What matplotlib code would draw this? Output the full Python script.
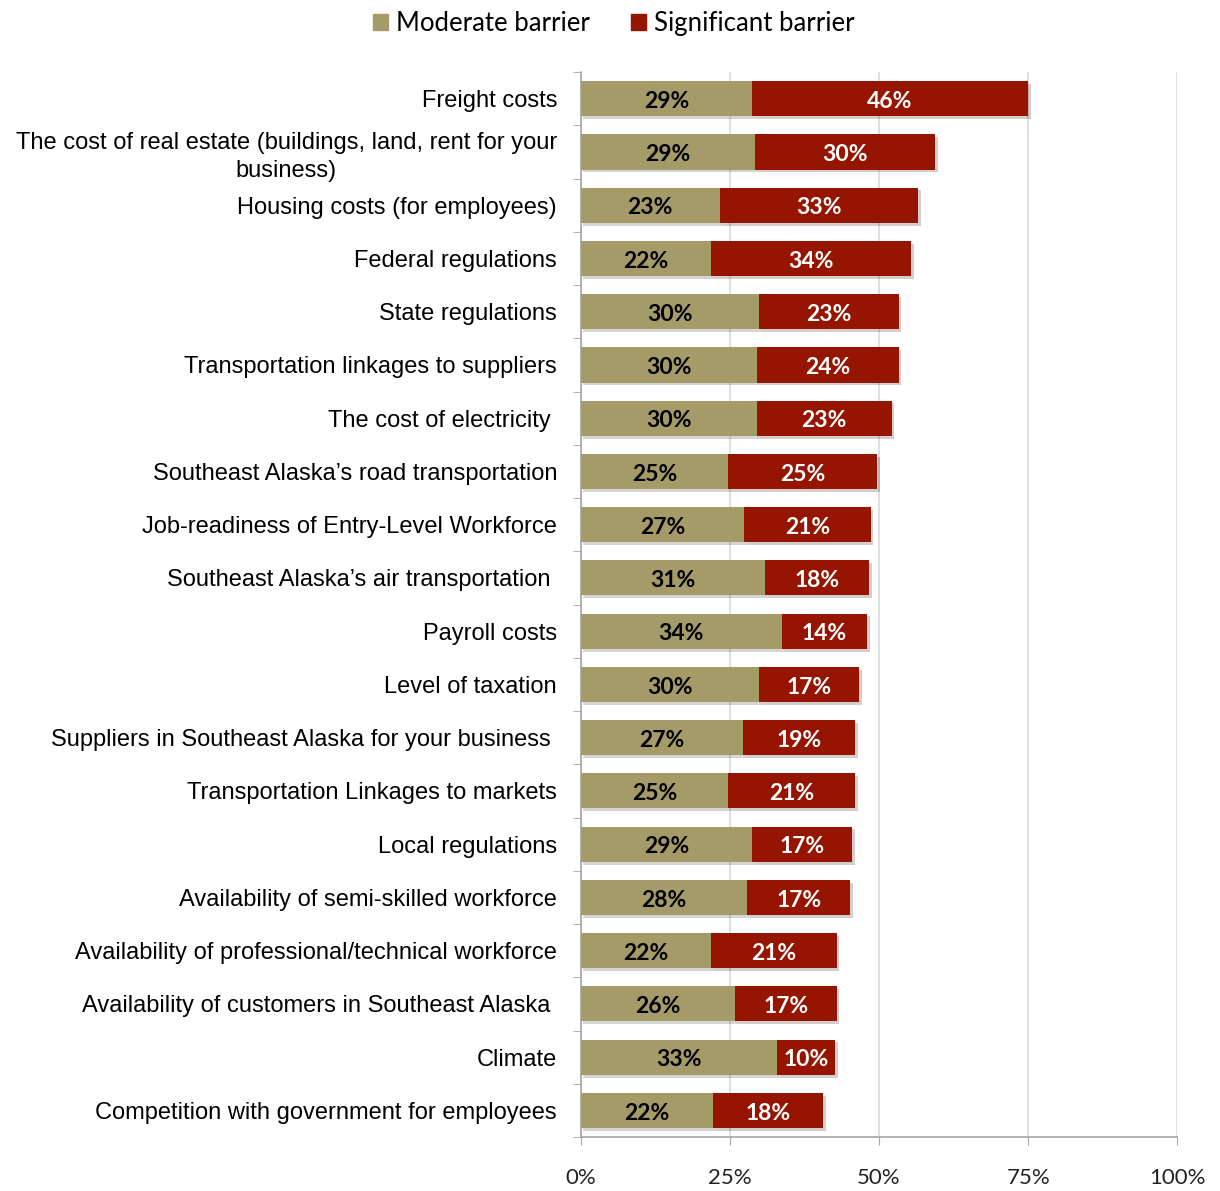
import matplotlib
matplotlib.use('Agg')
import matplotlib.pyplot as plt
import matplotlib.patheffects as pe
from matplotlib.patches import Patch
import numpy as np

# categories, top to bottom
categories = [
    "Freight costs",
    "The cost of real estate (buildings, land, rent for your\nbusiness)",
    "Housing costs (for employees)",
    "Federal regulations",
    "State regulations",
    "Transportation linkages to suppliers",
    "The cost of electricity ",
    "Southeast Alaska\u2019s road transportation",
    "Job-readiness of Entry-Level Workforce",
    "Southeast Alaska\u2019s air transportation ",
    "Payroll costs",
    "Level of taxation",
    "Suppliers in Southeast Alaska for your business ",
    "Transportation Linkages to markets",
    "Local regulations",
    "Availability of semi-skilled workforce",
    "Availability of professional/technical workforce",
    "Availability of customers in Southeast Alaska ",
    "Climate",
    "Competition with government for employees",
]
moderate = [28.7, 29.2, 23.3, 21.8, 29.9, 29.5, 29.5, 24.7, 27.4, 30.9,
            33.7, 29.9, 27.2, 24.7, 28.7, 27.9, 21.8, 25.8, 32.9, 22.1]
significant = [46.3, 30.2, 33.2, 33.6, 23.4, 23.8, 22.6, 25.0, 21.2, 17.5,
               14.3, 16.8, 18.8, 21.3, 16.8, 17.3, 21.1, 17.1, 9.7, 18.5]
series_names = ["Moderate barrier", "Significant barrier"]
xticks = [0, 25, 50, 75, 100]

col_mod = '#A59B68'
col_sig = '#951500'
num_font = 'Lato'

fig = plt.figure(figsize=(12.2, 11.91), dpi=100)
ax = fig.add_axes([0.476, 0.0453, 0.489, 0.8942])

n = len(categories)
y = np.arange(n)[::-1]
shadow = [pe.SimplePatchShadow(offset=(2, -2), alpha=0.2), pe.Normal()]

b1 = ax.barh(y, moderate, height=0.66, color=col_mod, zorder=3)
b2 = ax.barh(y, significant, left=moderate, height=0.66, color=col_sig, zorder=3)
for b in list(b1) + list(b2):
    b.set_path_effects(shadow)

for yi, m, s in zip(y, moderate, significant):
    ax.text(m / 2, yi - 0.05, '%d%%' % round(m), ha='center', va='center', fontsize=16.5,
            fontweight='bold', color='black', family=num_font, zorder=4)
    ax.text(m + s / 2, yi - 0.05, '%d%%' % round(s), ha='center', va='center', fontsize=16.5,
            fontweight='bold', color='white', family=num_font, zorder=4)

ax.set_xlim(0, 100)
ax.set_ylim(-0.5, n - 0.5)
ax.set_xticks(xticks)
ax.set_xticklabels(['%d%%' % t for t in xticks], fontsize=16, family=num_font,
                   color='#222222')
ax.tick_params(axis='x', length=6, color='#A6A6A6', pad=16)

ax.set_yticks(y)
ax.set_yticklabels(categories, fontsize=17, family='Liberation Sans')
for lbl in ax.get_yticklabels():
    lbl.set_multialignment('center')
    lbl.set_linespacing(1.35)
ax.set_yticks(np.arange(n + 1) - 0.5, minor=True)
ax.tick_params(axis='y', which='major', length=0, pad=17)
ax.tick_params(axis='y', which='minor', length=6, color='#A6A6A6')

ax.grid(axis='x', color='#D9D9D9', linewidth=1.2, zorder=0)
ax.set_axisbelow(True)
for side in ['top', 'right']:
    ax.spines[side].set_visible(False)
for side in ['left', 'bottom']:
    ax.spines[side].set_color('#A6A6A6')
    ax.spines[side].set_linewidth(1.2)

handles = [Patch(color=col_mod), Patch(color=col_sig)]
fig.legend(handles=handles, labels=series_names, loc='upper center',
           bbox_to_anchor=(0.503, 1.01), ncol=2, frameon=False,
           handlelength=0.6, handleheight=0.6, handletextpad=0.3, columnspacing=1.6,
           prop={'family': num_font, 'size': 18.5})

fig.savefig('out.png', dpi=100)
